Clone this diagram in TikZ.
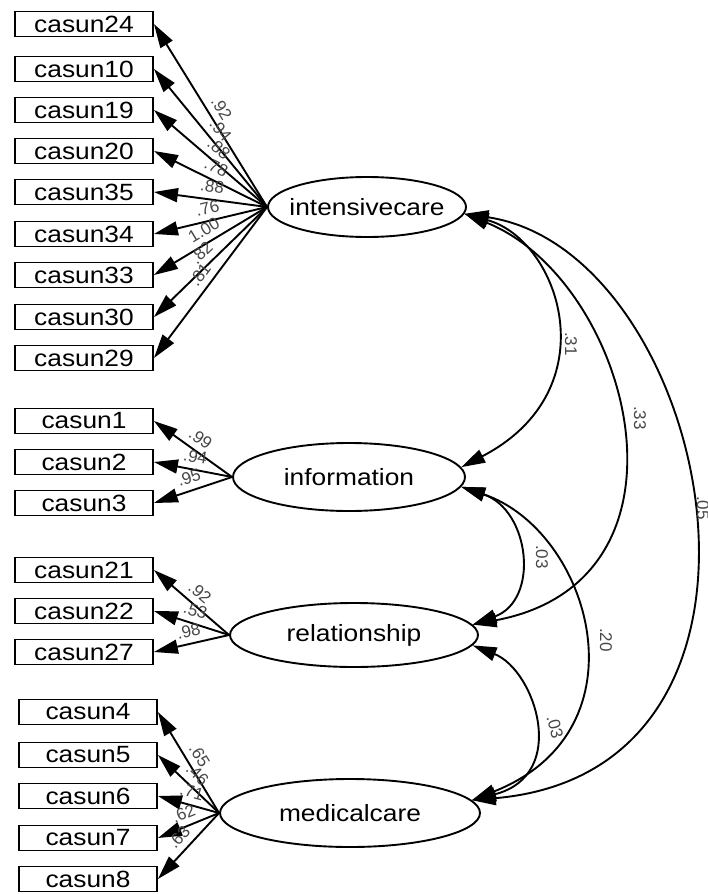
\documentclass[tikz,border=0pt]{standalone}
\usepackage{graphicx}
\usepackage{fontspec}
\setmainfont{Liberation Sans}
\usetikzlibrary{arrows.meta,shapes.geometric}
\newcommand\hs[1]{\scalebox{1.12}[1]{#1}}
\begin{document}
\begin{tikzpicture}[x=1pt,y=-1pt,
  obs/.style={draw,line width=1.9pt,minimum width=138pt,minimum height=25pt,inner sep=0pt,font=\fontsize{23.5}{26}\selectfont},
  lat/.style={draw,ellipse,line width=1.9pt,inner sep=0pt,font=\fontsize{23.5}{26}\selectfont},
  load/.style={line width=1.9pt,-{Triangle[length=24pt,width=14pt]}},
  cov/.style={line width=1.9pt,{Triangle[length=24pt,width=14pt]}-{Triangle[length=24pt,width=14pt]}},
  lab/.style={font=\fontsize{17}{19}\selectfont,text=black!72,inner sep=1pt},
  ll/.style={lab,sloped,above=5pt,pos=0.5},
]
\useasboundingbox (0,0) rectangle (708,894);
% observed variables
\node[obs] (b24) at (84,24)  {\hs{casun24}};
\node[obs] (b10) at (84,69)  {\hs{casun10}};
\node[obs] (b19) at (84,110) {\hs{casun19}};
\node[obs] (b20) at (84,151) {\hs{casun20}};
\node[obs] (b35) at (84,192) {\hs{casun35}};
\node[obs] (b34) at (84,234) {\hs{casun34}};
\node[obs] (b33) at (84,275) {\hs{casun33}};
\node[obs] (b30) at (84,317) {\hs{casun30}};
\node[obs] (b29) at (84,358) {\hs{casun29}};
\node[obs] (b1) at (84,421) {\hs{casun1}};
\node[obs] (b2) at (84,462) {\hs{casun2}};
\node[obs] (b3) at (84,503) {\hs{casun3}};
\node[obs] (b21) at (84,570) {\hs{casun21}};
\node[obs] (b22) at (84,611) {\hs{casun22}};
\node[obs] (b27) at (84,652) {\hs{casun27}};
\node[obs] (b4) at (88,712) {\hs{casun4}};
\node[obs] (b5) at (88,755) {\hs{casun5}};
\node[obs] (b6) at (88,796) {\hs{casun6}};
\node[obs] (b7) at (88,838) {\hs{casun7}};
\node[obs] (b8) at (88,879) {\hs{casun8}};
% latent variables
\node[lat,minimum width=198pt,minimum height=60pt] (ic) at (367,207) {\makebox[0pt]{\hs{intensivecare}}};
\node[lat,minimum width=232pt,minimum height=68pt] (info) at (349,477) {\makebox[0pt]{\hs{information}}};
\node[lat,minimum width=248pt,minimum height=64pt] (rel) at (354,635) {\makebox[0pt]{\hs{relationship}}};
\node[lat,minimum width=260pt,minimum height=68pt] (med) at (350,813) {\makebox[0pt]{\hs{medicalcare}}};
% loadings
\draw[load] (ic.west) -- node[ll]{.92} (b24.east);
\draw[load] (ic.west) -- node[ll]{.94} (b10.east);
\draw[load] (ic.west) -- node[ll]{.88} (b19.east);
\draw[load] (ic.west) -- node[ll]{.78} (b20.east);
\draw[load] (ic.west) -- node[ll]{.88} (b35.east);
\draw[load] (ic.west) -- node[ll]{.76} (b34.east);
\draw[load] (ic.west) -- node[ll]{1.00} (b33.east);
\draw[load] (ic.west) -- node[ll]{.82} (b30.east);
\draw[load] (ic.west) -- node[ll]{.81} (b29.east);
\draw[load] (info.west) -- node[ll]{.99} (b1.east);
\draw[load] (info.west) -- node[ll]{.94} (b2.east);
\draw[load] (info.west) -- node[ll]{.95} (b3.east);
\draw[load] (rel.west) -- node[ll]{.92} (b21.east);
\draw[load] (rel.west) -- node[ll]{.53} (b22.east);
\draw[load] (rel.west) -- node[ll]{.98} (b27.east);
\draw[load] (med.west) -- node[ll]{.65} (b4.east);
\draw[load] (med.west) -- node[ll]{.46} (b5.east);
\draw[load] (med.west) -- node[ll]{.71} (b6.east);
\draw[load] (med.west) -- node[ll]{.62} (b7.east);
\draw[load] (med.west) -- node[ll]{.63} (b8.east);
% covariances
\draw[cov] (ic.-4) .. controls (560,240) and (610,390) .. (info.5);
\draw[cov] (ic.-4) .. controls (630,280) and (710,580) .. (rel.5);
\draw[cov] (ic.-4) .. controls (710,250) and (820,770) .. (med.6);
\draw[cov] (info.-5) .. controls (530,510) and (540,600) .. (rel.5);
\draw[cov] (info.-5) .. controls (590,530) and (650,730) .. (med.6);
\draw[cov] (rel.-5) .. controls (535,670) and (570,775) .. (med.6);
\node[lab,rotate=-90] (c1) at (571,344) {.31};
\node[lab,rotate=-90] (c2) at (640,418) {.33};
\node[lab,rotate=-90] (c3) at (703,508) {.05};
\node[lab,rotate=-90] (c4) at (542,557) {.03};
\node[lab,rotate=-90] (c5) at (606,640) {.20};
\node[lab,rotate=-75] (c6) at (555,727) {.03};
\end{tikzpicture}
\end{document}
